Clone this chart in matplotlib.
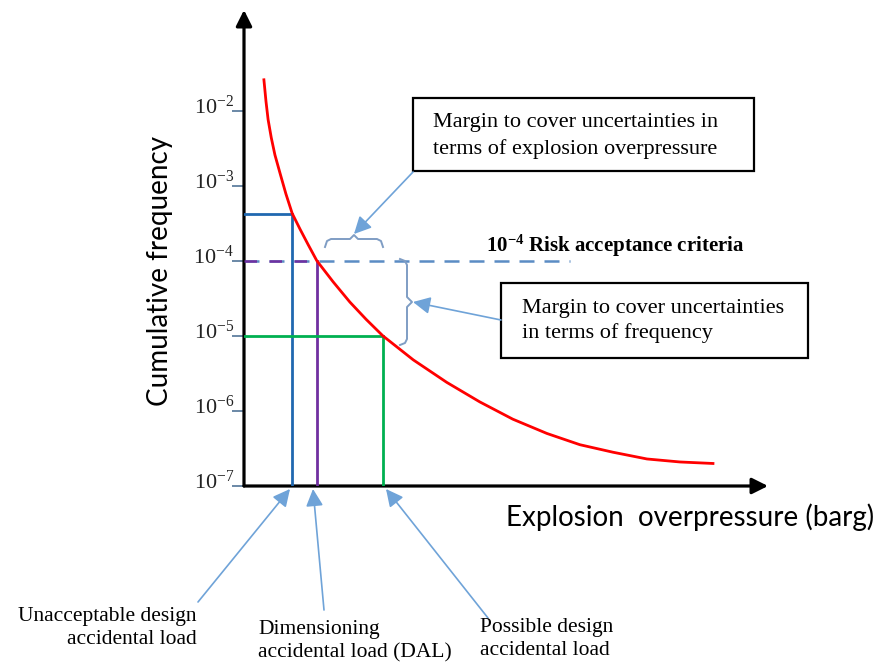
import matplotlib
matplotlib.use("Agg")
import matplotlib.pyplot as plt
from matplotlib.patches import Rectangle
from matplotlib.lines import Line2D

plt.rcParams['mathtext.fontset'] = 'custom'
plt.rcParams['mathtext.rm'] = 'Liberation Serif'
plt.rcParams['mathtext.bf'] = 'Liberation Serif:bold'

# ---------------- data ----------------
# x in arbitrary overpressure units (0..10 along the arrow), y = cumulative frequency
curve_x = [0.38, 0.42, 0.46, 0.52, 0.59, 0.69, 0.80, 0.92, 1.07, 1.22, 1.39, 1.70, 2.02, 2.33,
           2.65, 3.23, 3.87, 4.50, 5.13, 5.78, 6.41, 7.04, 7.69, 8.32, 8.95]
curve_logf = [-1.59, -1.88, -2.12, -2.36, -2.59, -2.84, -3.11, -3.37, -3.58, -3.78, -4.00, -4.28,
              -4.55, -4.78, -5.00, -5.32, -5.62, -5.88, -6.11, -6.30, -6.45, -6.55, -6.64, -6.68, -6.70]
curve_f = [10 ** v for v in curve_logf]

load_x = [0.91, 1.39, 2.65]            # unacceptable, DAL, possible
load_f = [4.2e-4, 1e-4, 1e-5]
load_colors = ['#2068b0', '#7030a0', '#00b050']
load_hdash = [False, True, False]     # DAL horizontal is drawn dashed on the risk line

risk_level = 1e-4
risk_end_x = 6.22

ytick_vals = [1e-2, 1e-3, 1e-4, 1e-5, 1e-6, 1e-7]
ytick_labels = [r'$\mathrm{10^{-2}}$', r'$\mathrm{10^{-3}}$', r'$\mathrm{10^{-4}}$',
                r'$\mathrm{10^{-5}}$', r'$\mathrm{10^{-6}}$', r'$\mathrm{10^{-7}}$']

W, H = 879, 662


def fp(px, py):
    # pixel position in the figure -> figure fraction
    return (px / W, 1 - py / H)


fig = plt.figure(figsize=(W / 100, H / 100), dpi=100)
ax = fig.add_axes([244 / W, 1 - 486 / H, (768 - 244) / W, (486 - 10) / H])
ax.set_yscale('log')
ax.set_xlim(0, 10)
ax.set_ylim(1e-7, 10 ** (-7 + 478 / 75.4))
for s in ax.spines.values():
    s.set_visible(False)
ax.set_xticks([])
ax.set_yticks(ytick_vals)
ax.set_yticklabels([])
ax.yaxis.set_minor_locator(matplotlib.ticker.NullLocator())
ax.tick_params(axis='y', length=9, width=1.3, color='#5f7f9f', direction='out')
for v, lab in zip(ytick_vals, ytick_labels):
    ax.annotate(lab, xy=(0, v), xycoords=('axes fraction', 'data'),
                xytext=(-10, -3), textcoords='offset pixels',
                ha='right', va='baseline', fontsize=16, color='#222222')

# axis arrows
arrow_kw = dict(arrowstyle='-|>', lw=2.3, color='black', mutation_scale=24,
                shrinkA=0, shrinkB=0)
ax.annotate('', xy=(0, 1), xytext=(0, 0), xycoords='axes fraction', arrowprops=arrow_kw)
ax.annotate('', xy=(1, 0), xytext=(0, 0), xycoords='axes fraction', arrowprops=arrow_kw)

# risk acceptance line
ax.plot([0, risk_end_x], [risk_level, risk_level], color='#5b8cc4', lw=1.8,
        dashes=(6, 4), zorder=2)

# load lines
for x, f, c, dashed in zip(load_x, load_f, load_colors, load_hdash):
    if dashed:
        ax.plot([0, x], [f, f], color=c, lw=1.8, dashes=(5, 5), zorder=3)
        ax.plot([x, x], [f, 1e-7], color=c, lw=2, zorder=3)
    else:
        ax.plot([0, x, x], [f, f, 1e-7], color=c, lw=2, zorder=3, solid_joinstyle='miter')

# exceedance curve
ax.plot(curve_x, curve_f, color='#ff0000', lw=2, zorder=4)

# texts and boxes
serif = 'Liberation Serif'
fig.text(*fp(486, 246), r'$\mathbf{10^{-4}}$ Risk acceptance criteria',
         family=serif, fontweight='bold', fontsize=15, ha='left', va='center')

fig.add_artist(Rectangle(fp(413, 171), (754 - 413) / W, (171 - 98) / H, transform=fig.transFigure,
                         fill=False, ec='black', lw=1.6))
fig.text(*fp(433, 136), 'Margin to cover uncertainties in\nterms of explosion overpressure',
         family=serif, fontsize=16, ha='left', va='center', linespacing=1.45)

fig.add_artist(Rectangle(fp(501, 358), (808 - 501) / W, (358 - 283) / H, transform=fig.transFigure,
                         fill=False, ec='black', lw=1.6))
fig.text(*fp(522, 321), 'Margin to cover uncertainties\nin terms of frequency',
         family=serif, fontsize=16, ha='left', va='center', linespacing=1.4)

fig.text(*fp(197, 628), 'Unacceptable design\naccidental load', family=serif, fontsize=15.5,
         ha='right', va='center', multialignment='right', linespacing=1.35)
fig.text(*fp(258, 641), 'Dimensioning\naccidental load (DAL)', family=serif, fontsize=15.5,
         ha='left', va='center', linespacing=1.3)
fig.text(*fp(480, 639), 'Possible design\naccidental load', family=serif, fontsize=15.5,
         ha='left', va='center', linespacing=1.35)

fig.text(*fp(160, 271), 'Cumulative frequency', family='Lato', fontsize=20,
         rotation=90, ha='center', va='center')
fig.text(*fp(690, 517), 'Explosion  overpressure (barg)', family='Lato', fontsize=20,
         ha='center', va='center')

# braces
brace_col = '#7f9dc4'
b1 = [(325, 247), (327, 241), (331, 239), (350, 239), (354, 235), (358, 239),
      (377, 239), (381, 241), (383, 247)]
b2 = [(400, 259), (405, 261), (407, 265), (407, 297), (412, 302), (407, 307),
      (407, 339), (405, 343), (400, 345)]
for b in (b1, b2):
    pts = [fp(*p) for p in b]
    fig.add_artist(Line2D([p[0] for p in pts], [p[1] for p in pts], color=brace_col,
                          lw=1.4, transform=fig.transFigure))

# callout arrows
call_kw = dict(arrowstyle='-|>', lw=1.2, color='#6fa3d8', mutation_scale=26,
               shrinkA=0, shrinkB=0)
callouts = [((413, 172), (354, 234)),
            ((501, 320), (413, 302)),
            ((198, 602), (290, 489)),
            ((324, 610), (313, 489)),
            ((488, 618), (386, 489))]
for start, end in callouts:
    fig.add_artist(plt.Annotation('', xy=fp(*end), xytext=fp(*start), xycoords='figure fraction',
                                  textcoords='figure fraction', arrowprops=call_kw))

fig.savefig('out.png', dpi=100)
